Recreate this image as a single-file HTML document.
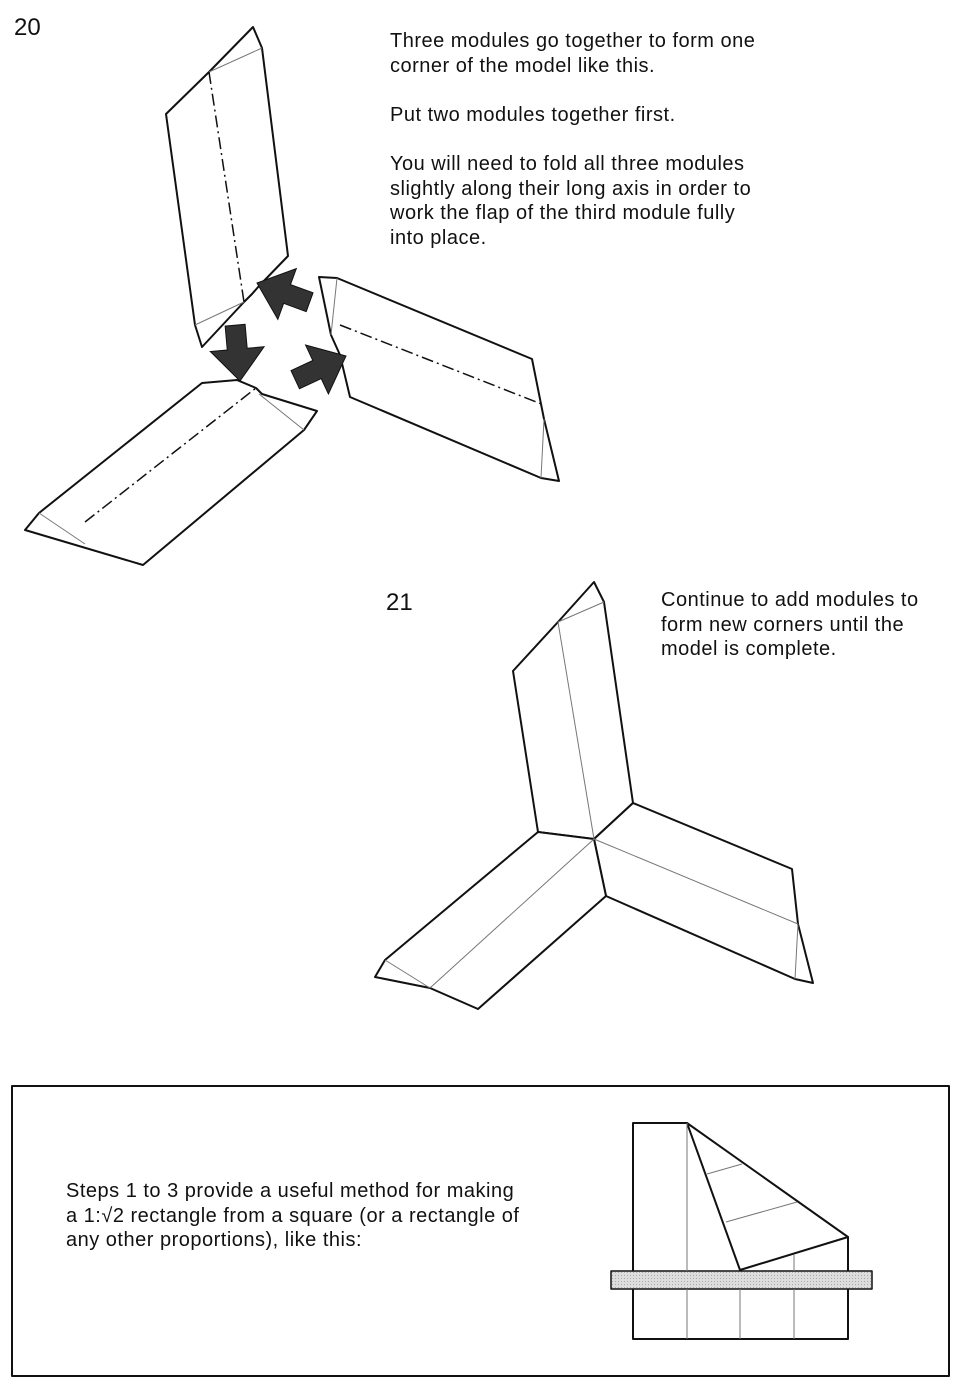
<!DOCTYPE html>
<html><head><meta charset="utf-8"><style>
html,body{margin:0;padding:0;background:#fff;}
body{width:960px;height:1389px;position:relative;overflow:hidden;font-family:"Liberation Sans",sans-serif;color:#111;}
.t{position:absolute;font-size:20px;line-height:24.6px;letter-spacing:0.5px;}
svg{position:absolute;left:0;top:0;}
</style></head><body>
<svg width="960" height="1389" viewBox="0 0 960 1389">
<defs><pattern id="hp" width="3" height="3" patternUnits="userSpaceOnUse"><rect width="3" height="3" fill="#ddd"/><rect width="1" height="1" fill="#aaa"/></pattern></defs>
<g fill="none" stroke="#111" stroke-width="2" stroke-linejoin="round">
<polygon points="253,27 262,48 288,256 259,286 252,294 244,302 202,347 195,325 166,114 209,72" fill="#fff"/>
<polygon points="319,277 337,278 532,359 544,419 559,481 541,478 350,397 340,355 331,335" fill="#fff"/>
<polygon points="202,383 237,380 256,388 262,394 317,411 304,430 143,565 25,530 39,513" fill="#fff"/>
<polygon points="594,582 604,602 633,803 594,839 538,832 513,671 558,622" fill="#fff"/>
<polygon points="594,839 633,803 792,869 798,924 813,983 795,979 606,896" fill="#fff"/>
<polygon points="594,839 606,896 478,1009 430,988 375,977 385,960 538,832" fill="#fff"/>
<rect x="12" y="1086" width="937" height="290"/>
<polyline points="687,1123 633,1123 633,1339 848,1339 848,1237"/>
<polygon points="687,1123 848,1237 740,1270"/>
<rect x="611" y="1271" width="261" height="18" fill="url(#hp)" stroke-width="1.5"/>
</g>
<g stroke="#777" stroke-width="1" fill="none">
<line x1="209" y1="72" x2="262" y2="48"/><line x1="195" y1="325" x2="244" y2="302"/>
<line x1="337" y1="278" x2="331" y2="335"/><line x1="544" y1="419" x2="541" y2="478"/>
<line x1="39" y1="513" x2="85" y2="544"/><line x1="259" y1="394" x2="304" y2="430"/>
<line x1="558" y1="622" x2="604" y2="602"/><line x1="558" y1="622" x2="594" y2="839"/>
<line x1="594" y1="839" x2="798" y2="924"/><line x1="798" y1="924" x2="795" y2="979"/>
<line x1="594" y1="839" x2="430" y2="988"/><line x1="385" y1="960" x2="430" y2="988"/>
<line x1="687" y1="1123" x2="687" y2="1271"/><line x1="687" y1="1289" x2="687" y2="1339"/>
<line x1="740" y1="1289" x2="740" y2="1339"/>
<line x1="794" y1="1255" x2="794" y2="1271"/><line x1="794" y1="1289" x2="794" y2="1339"/>
<line x1="707" y1="1174" x2="742" y2="1164"/><line x1="726" y1="1222" x2="797" y2="1202"/>
</g>
<g stroke="#111" stroke-width="1.5" stroke-dasharray="12,4,2,4" fill="none">
<line x1="209" y1="72" x2="244" y2="302"/>
<line x1="340" y1="325" x2="544" y2="405"/>
<line x1="85" y1="522" x2="256" y2="388"/>
</g>
<g fill="#333" stroke="#111" stroke-width="1">
<path d="M0,0 L-32,-27 L-32,-10 L-56,-10 L-56,10 L-32,10 L-32,27 Z" transform="translate(257,283) rotate(200)"/>
<path d="M0,0 L-32,-27 L-32,-10 L-56,-10 L-56,10 L-32,10 L-32,27 Z" transform="translate(240,381) rotate(85)"/>
<path d="M0,0 L-32,-27 L-32,-10 L-56,-10 L-56,10 L-32,10 L-32,27 Z" transform="translate(346,356) rotate(-25)"/>
</g>
</svg>
<div class="t" style="left:14px;top:16px;font-size:24px;letter-spacing:0;">20</div>
<div class="t" style="left:390px;top:29px;">Three modules go together to form one<br>corner of the model like this.<br><br>Put two modules together first.<br><br>You will need to fold all three modules<br>slightly along their long axis in order to<br>work the flap of the third module fully<br>into place.</div>
<div class="t" style="left:386px;top:591px;font-size:24px;letter-spacing:0;">21</div>
<div class="t" style="left:661px;top:588px;">Continue to add modules to<br>form new corners until the<br>model is complete.</div>
<div class="t" style="left:66px;top:1179px;">Steps 1 to 3 provide a useful method for making<br>a 1:√2 rectangle from a square (or a rectangle of<br>any other proportions), like this:</div>
</body></html>
